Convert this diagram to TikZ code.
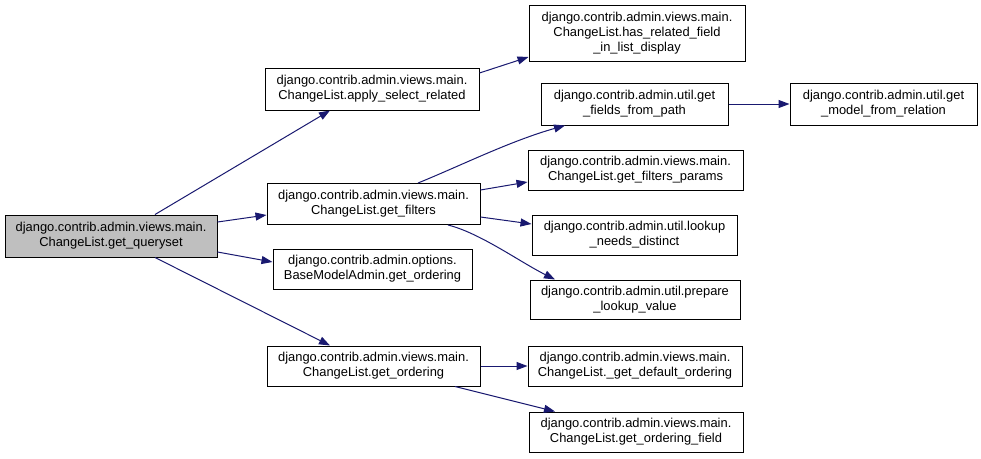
\documentclass[tikz,border=0pt]{standalone}
\usepackage{fontspec}
\setmainfont{Liberation Sans}
\usetikzlibrary{arrows.meta}
\definecolor{edgeblue}{HTML}{191970}
\definecolor{qgray}{HTML}{BFBFBF}
\tikzset{
  fnbox/.style={draw=black, line width=1pt, fill=white, inner sep=0pt, align=center,
    font=\fontsize{12.9}{15}\selectfont, text=black},
  calledge/.style={draw=edgeblue, line width=1pt, -{Triangle[length=11pt,width=8pt]}}
}
\begin{document}
\begin{tikzpicture}[x=1pt,y=-1pt]
\useasboundingbox[fill=white] (0,0) rectangle (981,458);
\node[fnbox, fill=qgray, minimum width=212pt, minimum height=42pt] (q) at (111,236) {django.contrib.admin.views.main.\\ChangeList.get\_queryset};
\node[fnbox, minimum width=214pt, minimum height=42pt] (asr) at (372,89) {django.contrib.admin.views.main.\\ChangeList.apply\_select\_related};
\node[fnbox, minimum width=216pt, minimum height=56pt] (hr) at (637,33) {django.contrib.admin.views.main.\\ChangeList.has\_related\_field\\\_in\_list\_display};
\node[fnbox, minimum width=187pt, minimum height=42pt] (gfp) at (634.5,104) {django.contrib.admin.util.get\\\_fields\_from\_path};
\node[fnbox, minimum width=187pt, minimum height=42pt] (gmr) at (883.5,104) {django.contrib.admin.util.get\\\_model\_from\_relation};
\node[fnbox, minimum width=213pt, minimum height=41pt] (gf) at (373.5,204) {django.contrib.admin.views.main.\\ChangeList.get\_filters};
\node[fnbox, minimum width=215pt, minimum height=40pt] (gfpar) at (635.5,170) {django.contrib.admin.views.main.\\ChangeList.get\_filters\_params};
\node[fnbox, minimum width=205pt, minimum height=40pt] (lnd) at (634.5,235) {django.contrib.admin.util.lookup\\\_needs\_distinct};
\node[fnbox, minimum width=199pt, minimum height=40pt] (bma) at (372.5,269) {django.contrib.admin.options.\\BaseModelAdmin.get\_ordering};
\node[fnbox, minimum width=210pt, minimum height=39pt] (plv) at (635,299.5) {django.contrib.admin.util.prepare\\\_lookup\_value};
\node[fnbox, minimum width=213pt, minimum height=40pt] (gor) at (373.5,366) {django.contrib.admin.views.main.\\ChangeList.get\_ordering};
\node[fnbox, minimum width=214pt, minimum height=40pt] (gdo) at (635,366) {django.contrib.admin.views.main.\\ChangeList.\_get\_default\_ordering};
\node[fnbox, minimum width=214pt, minimum height=40pt] (gof) at (636,432) {django.contrib.admin.views.main.\\ChangeList.get\_ordering\_field};

\draw[calledge] ([xshift=44pt]q.north) -- ([xshift=-42pt]asr.south);
\draw[calledge] ([yshift=14pt]q.east) -- ([yshift=-11pt]gf.west);
\draw[calledge] ([yshift=-16pt]q.east) -- ([yshift=7pt]bma.west);
\draw[calledge] ([xshift=44pt]q.south) -- ([xshift=-43.5pt]gor.north);
\draw[calledge] ([yshift=16pt]asr.east) -- ([yshift=-24pt]hr.west);
\draw[calledge] ([xshift=44.5pt]gf.north) .. controls (460,166) and (510,141) .. ([xshift=-69.5pt]gfp.south);
\draw[calledge] ([yshift=14pt]gf.east) -- ([yshift=-12pt]gfpar.west);
\draw[calledge] ([yshift=-13pt]gf.east) -- ([yshift=11pt]lnd.west);
\draw[calledge] ([xshift=74.5pt]gf.south) .. controls (480,233) and (520,262) .. ([xshift=-80pt]plv.north);
\draw[calledge] (gfp.east) -- (gmr.west);
\draw[calledge] (gor.east) -- (gdo.west);
\draw[calledge] ([xshift=81.5pt]gor.south) -- ([xshift=-81pt]gof.north);
\end{tikzpicture}
\end{document}
